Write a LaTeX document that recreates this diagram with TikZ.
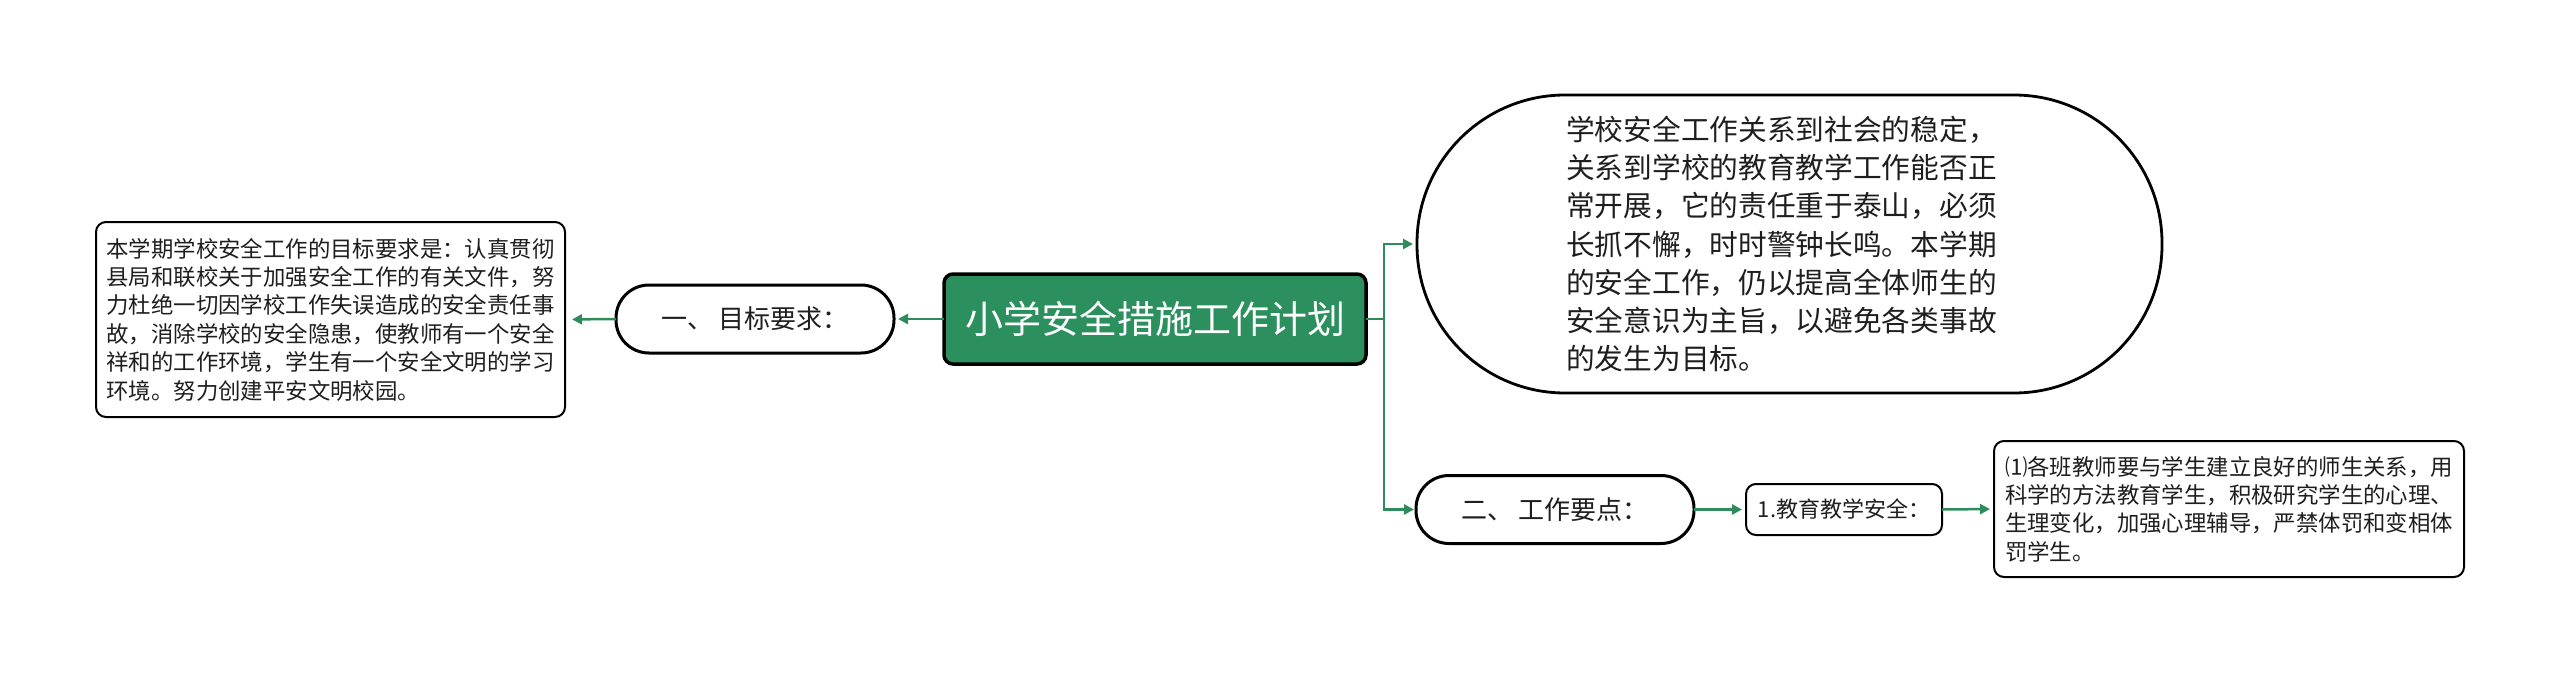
\documentclass[tikz,border=0pt]{standalone}
\usepackage{fontspec}
\newfontfamily\cjk{Noto Sans CJK SC}
\usetikzlibrary{arrows.meta}
\definecolor{mmgreen}{RGB}{43,143,94}
\definecolor{lnk}{RGB}{46,140,92}
\definecolor{txt}{RGB}{30,30,30}
\begin{document}
\begin{tikzpicture}[x=1pt,y=-1pt,
  base/.style={inner sep=0pt, outer sep=0pt, text=txt, align=left},
  rootbox/.style={base, draw=black, line width=3.5pt, fill=mmgreen, rounded corners=9pt, text=white,
    minimum width=422pt, minimum height=90pt, font=\cjk\fontsize{38}{44}\selectfont},
  pill/.style={base, draw=black, line width=3pt, fill=white, rounded corners=33pt,
    minimum width=278pt, minimum height=68pt, font=\cjk\fontsize{26}{30}\selectfont},
  bigpill/.style={base, draw=black, line width=2.8pt, fill=white, rounded corners=148pt,
    minimum width=745pt, minimum height=298pt, font=\cjk\fontsize{28.7}{38.3}\selectfont},
  textbox/.style={base, draw=black, line width=2pt, fill=white, rounded corners=10pt,
    font=\cjk\fontsize{22.4}{28.4}\selectfont},
  conn/.style={draw=lnk, line width=2.5pt, -{Triangle[length=10pt,width=10pt]}, shorten >=4pt},
  plain/.style={draw=lnk, line width=2.5pt}
]
\useasboundingbox (0,0) rectangle (2560,674);

\node[rootbox] (root) at (1155,319) {小学安全措施工作计划};

\node[pill] (goal) at (755,319) {一、 目标要求：};

\node[textbox, minimum width=469pt, minimum height=195pt] (leftbox) at (330.5,319.5)
  {本学期学校安全工作的目标要求是：认真贯彻\\
   县局和联校关于加强安全工作的有关文件，努\\
   力杜绝一切因学校工作失误造成的安全责任事\\
   故，消除学校的安全隐患，使教师有一个安全\\
   祥和的工作环境，学生有一个安全文明的学习\\
   环境。努力创建平安文明校园。};

\node[bigpill] (big) at (1789.5,244)
  {\hspace*{-16pt}学校安全工作关系到社会的稳定，\\
   \hspace*{-16pt}关系到学校的教育教学工作能否正\\
   \hspace*{-16pt}常开展，它的责任重于泰山，必须\\
   \hspace*{-16pt}长抓不懈，时时警钟长鸣。本学期\\
   \hspace*{-16pt}的安全工作，仍以提高全体师生的\\
   \hspace*{-16pt}安全意识为主旨，以避免各类事故\\
   \hspace*{-16pt}的发生为目标。};

\node[pill] (two) at (1555,509.5) {二、 工作要点：};

\node[textbox, minimum width=196pt, minimum height=51pt, font=\cjk\fontsize{22}{26}\selectfont] (edu) at (1844,509.5) {1.教育教学安全：};

\node[textbox, minimum width=470pt, minimum height=136pt] (rightbox) at (2229,509)
  {⑴各班教师要与学生建立良好的师生关系，用\\
   科学的方法教育学生，积极研究学生的心理、\\
   生理变化，加强心理辅导，严禁体罚和变相体\\
   罚学生。};

\coordinate (junc) at (1384,319);

\draw[conn] (root.west) -- (goal.east);
\draw[conn, shorten >=7pt] (goal.west) -- (leftbox.east);
\draw[plain] (root.east) -- (junc);
\draw[conn] (junc) |- (big.west);
\draw[conn, shorten >=2pt] (junc) |- (two.west);
\draw[conn] (two.east) -- (edu.west);
\draw[conn] (edu.east) -- (rightbox.west);
\end{tikzpicture}
\end{document}
